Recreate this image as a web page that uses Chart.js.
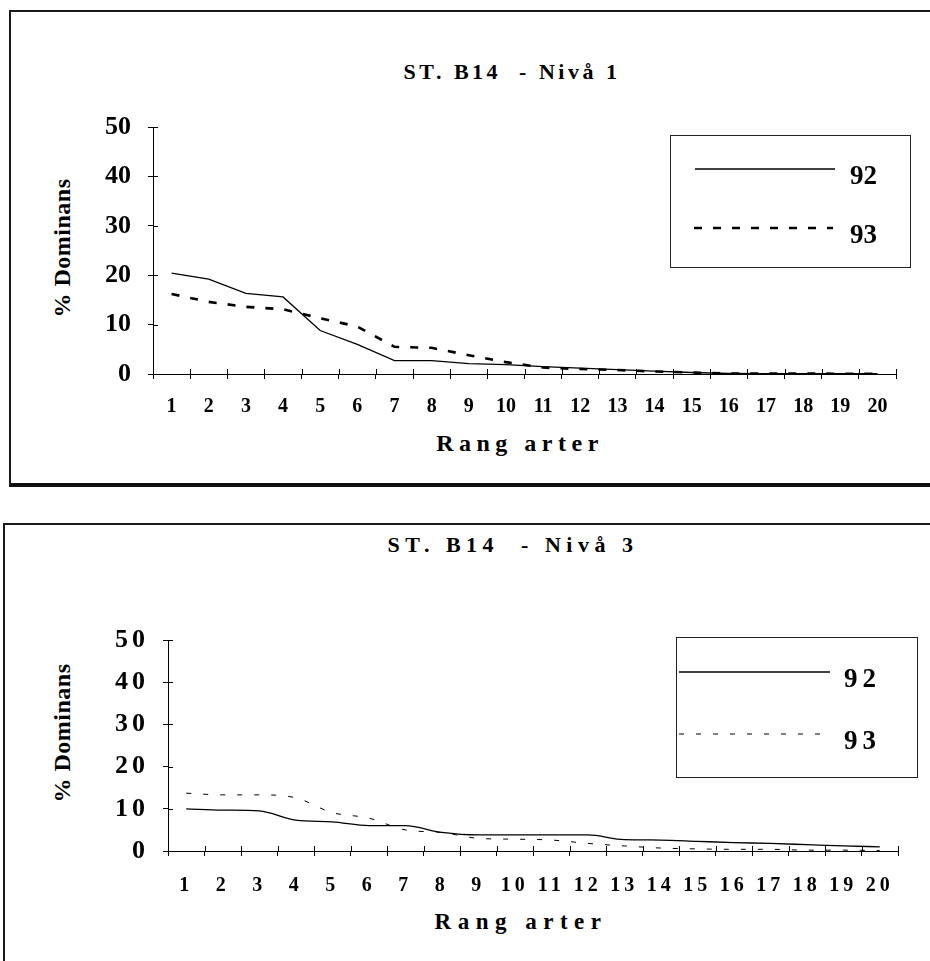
<!DOCTYPE html>
<html><head><meta charset="utf-8">
<script src="https://cdn.jsdelivr.net/npm/chart.js@4.4.1/dist/chart.umd.min.js"></script>
<style>
html,body{margin:0;padding:0;background:#fff;}
body{width:930px;height:961px;position:relative;overflow:hidden;font-family:"Liberation Serif","Times New Roman",serif;color:#000;}
.abs{position:absolute;}
.box1{left:9px;top:10px;width:1000px;height:471px;border-top:2px solid #1a1a1a;border-left:2px solid #1a1a1a;border-bottom:4px solid #111;}
.box2{left:3px;top:523px;width:1000px;height:500px;border-top:2px solid #1a1a1a;border-left:2px solid #1a1a1a;}
.txt{font-weight:bold;white-space:pre;transform:translate(-50%,-50%);line-height:1;}
.ytitle{font-weight:bold;white-space:pre;transform:translate(-50%,-50%) rotate(-90deg);line-height:1;font-size:24px;letter-spacing:0.5px;}
.legend{border:1px solid #222;box-sizing:border-box;background:transparent;}
.legend span{position:absolute;font-weight:bold;font-size:27px;line-height:1;transform:translateY(-50%);white-space:pre;}
canvas{position:absolute;left:0;}
</style>
</head>
<body>
<div class="abs box1"></div>
<div class="abs box2"></div>

<div class="abs txt" style="left:512px;top:72px;font-size:22px;letter-spacing:3.5px;">ST. B14  - Nivå 1</div>
<div class="abs ytitle" style="left:62px;top:248px;">% Dominans</div>
<div class="abs txt" style="left:520px;top:443px;font-size:24px;letter-spacing:5.5px;">Rang arter</div>
<canvas id="c1" width="930" height="490" style="top:0px;width:930px;height:490px;"></canvas>

<div class="abs txt" style="left:513px;top:545px;font-size:22px;letter-spacing:5.5px;">ST. B14  - Nivå 3</div>
<div class="abs ytitle" style="left:62px;top:733px;">% Dominans</div>
<div class="abs txt" style="left:521px;top:921px;font-size:23px;letter-spacing:6.5px;">Rang arter</div>
<canvas id="c2" width="930" height="461" style="top:500px;width:930px;height:461px;"></canvas>

<script>
// ---- data ----
const categories = ['1','2','3','4','5','6','7','8','9','10','11','12','13','14','15','16','17','18','19','20'];
const yTickValues = [0, 10, 20, 30, 40, 50];
const seriesNames = ['92', '93'];
const niva1_92 = [20.4, 19.2, 16.3, 15.6, 8.8, 6.0, 2.7, 2.7, 2.1, 1.9, 1.5, 1.2, 0.9, 0.6, 0.3, 0.1, 0.05, 0.05, 0.05, 0.05];
const niva1_93 = [16.2, 14.6, 13.6, 13.1, 11.3, 9.6, 5.5, 5.3, 3.8, 2.4, 1.3, 1.0, 0.8, 0.5, 0.3, 0.1, 0.1, 0.1, 0.05, 0.05];
const niva3_92 = [10.0, 9.7, 9.5, 7.3, 6.9, 6.0, 6.0, 4.4, 3.8, 3.8, 3.8, 3.8, 2.7, 2.6, 2.3, 2.0, 1.8, 1.5, 1.2, 1.0];
const niva3_93 = [13.7, 13.3, 13.3, 12.6, 9.1, 7.8, 5.0, 4.4, 3.0, 2.8, 2.6, 1.8, 1.2, 0.7, 0.5, 0.4, 0.4, 0.2, 0.2, 0.1];

const FONT = '"Liberation Serif", "Times New Roman", serif';

const crossTicks = {
  id: 'crossTicks',
  afterDraw(chart, args, opts) {
    const {ctx, chartArea: a, scales: {x, y}} = chart;
    ctx.save();
    ctx.letterSpacing = '0px';
    ctx.strokeStyle = '#000';
    ctx.lineWidth = 1;
    ctx.beginPath();
    y.ticks.forEach(t => {
      const py = Math.round(y.getPixelForValue(t.value)) + 0.5;
      ctx.moveTo(a.left, py); ctx.lineTo(a.left + opts.len, py);
    });
    const n = x.ticks.length;
    const w = x.getPixelForValue(1) - x.getPixelForValue(0);
    for (let i = 0; i <= n; i++) {
      const px = Math.round(x.getPixelForValue(i) - w / 2) + 0.5;
      ctx.moveTo(px, a.bottom); ctx.lineTo(px, a.bottom - opts.len);
    }
    ctx.stroke();
    ctx.restore();
  }
};
const spacing = {
  id: 'spacing',
  beforeDraw(chart, args, opts) { chart.ctx.letterSpacing = opts.value || '0px'; }
};

function makeChart(id, d92, d93, c) {
  const ctx = document.getElementById(id).getContext('2d');
  return new Chart(ctx, {
    type: 'line',
    data: {
      labels: categories,
      datasets: [
        { label: seriesNames[0], data: d92, borderColor: '#000', borderWidth: 1.3, pointRadius: 0,
          fill: false, cubicInterpolationMode: c.interp, tension: 0 },
        { label: seriesNames[1], data: d93, borderColor: '#000', borderWidth: c.dashWidth, borderDash: c.dash,
          pointRadius: 0, fill: false, cubicInterpolationMode: c.interp, tension: 0 }
      ]
    },
    plugins: [crossTicks, spacing],
    options: {
      responsive: false,
      devicePixelRatio: 1,
      animation: false,
      events: [],
      layout: { padding: { left: 0, right: c.canvasW - c.right, top: c.top, bottom: 0 } },
      plugins: {
        legend: { display: false },
        tooltip: { enabled: false },
        title: { display: false },
        crossTicks: { len: 5 },
        spacing: { value: c.letter }
      },
      scales: {
        x: {
          type: 'category',
          offset: true,
          grid: { display: true, offset: true, drawOnChartArea: false, drawTicks: true, tickLength: 5, color: '#000', lineWidth: 1 },
          border: { display: true, color: '#000', width: 1 },
          ticks: { autoSkip: false, maxRotation: 0, minRotation: 0, padding: c.xPad, color: '#000',
                   font: { family: FONT, size: 20, weight: 'bold' } },
          afterFit(s) { s.height = c.canvasH - c.bottom; }
        },
        y: {
          min: 0, max: 50,
          afterBuildTicks(s) { s.ticks = yTickValues.map(v => ({ value: v })); },
          grid: { display: true, drawOnChartArea: false, drawTicks: true, tickLength: 5, color: '#000', lineWidth: 1 },
          border: { display: true, color: '#000', width: 1 },
          ticks: { padding: c.yPad, color: '#000', font: { family: FONT, size: 26, weight: 'bold' } },
          afterFit(s) { s.width = c.left; }
        }
      }
    }
  });
}

function buildLegend(chart, L) {
  const box = document.createElement('div');
  box.className = 'abs legend';
  Object.assign(box.style, { left: L.left + 'px', top: L.top + 'px', width: L.w + 'px', height: L.h + 'px' });
  chart.data.datasets.forEach((ds, i) => {
    const it = L.items[i];
    const svgNS = 'http://www.w3.org/2000/svg';
    const svg = document.createElementNS(svgNS, 'svg');
    svg.setAttribute('width', L.w); svg.setAttribute('height', L.h);
    svg.style.position = 'absolute'; svg.style.left = '-1px'; svg.style.top = '-1px';
    const ln = document.createElementNS(svgNS, 'line');
    ln.setAttribute('x1', it.x1); ln.setAttribute('x2', it.x2);
    ln.setAttribute('y1', it.y); ln.setAttribute('y2', it.y);
    ln.setAttribute('stroke', ds.borderColor);
    ln.setAttribute('stroke-width', ds.borderWidth);
    if (ds.borderDash) ln.setAttribute('stroke-dasharray', ds.borderDash.join(' '));
    svg.appendChild(ln);
    box.appendChild(svg);
    const sp = document.createElement('span');
    sp.textContent = ds.label;
    sp.style.left = it.tx + 'px'; sp.style.top = it.ty + 'px';
    sp.style.letterSpacing = L.letter;
    box.appendChild(sp);
  });
  document.body.appendChild(box);
}

const ch1 = makeChart('c1', niva1_92, niva1_93, {
  canvasW: 930, canvasH: 490, left: 153, right: 896, top: 127, bottom: 374,
  dash: [8, 11], dashWidth: 2.6, interp: 'default', letter: '0px', xPad: 16, yPad: 17
});
const ch2 = makeChart('c2', niva3_92, niva3_93, {
  canvasW: 930, canvasH: 461, left: 168, right: 898, top: 140, bottom: 351,
  dash: [5, 12], dashWidth: 1, interp: 'monotone', letter: '4px', xPad: 18, yPad: 14
});

buildLegend(ch1, { left: 670, top: 135, w: 241, h: 133, letter: '0px',
  items: [ { x1: 25, x2: 165, y: 34, tx: 179, ty: 39 }, { x1: 24, x2: 163, y: 93, tx: 179, ty: 98 } ] });
buildLegend(ch2, { left: 676, top: 637, w: 242, h: 141, letter: '5px',
  items: [ { x1: 3, x2: 154, y: 35, tx: 167, ty: 40 }, { x1: 3, x2: 154, y: 97, tx: 167, ty: 102 } ] });
</script>
</body></html>
